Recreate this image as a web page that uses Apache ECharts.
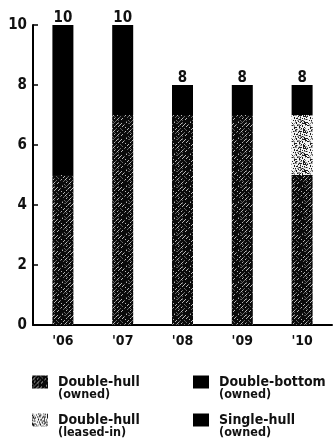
<!DOCTYPE html>
<html>
<head>
<meta charset="utf-8">
<script src="https://cdn.jsdelivr.net/npm/echarts@6/dist/echarts.min.js"></script>
<style>
  html, body { margin: 0; padding: 0; background: #fff; }
  #chart { width: 334px; height: 445px; }
</style>
</head>
<body>
<div id="chart"></div>
<script>
// Fleet composition by hull type, number of vessels per year
const years = ["'06", "'07", "'08", "'09", "'10"];
const doubleHullOwned = [5, 7, 7, 7, 5];
const doubleHullLeased = [0, 0, 0, 0, 2];
const doubleBottomOwned = [1, 1, 1, 1, 1];
const singleHullOwned = [4, 2, 0, 0, 0];
const totals = years.map((_, i) =>
  doubleHullOwned[i] + doubleHullLeased[i] + doubleBottomOwned[i] + singleHullOwned[i]);

const FONT = "'DejaVu Sans Condensed', 'DejaVu Sans', sans-serif";

// Small seeded generator so the textures are identical on every load
function makeRng(seed) {
  let s = seed;
  return () => { s = (s * 1103515245 + 12345) & 0x7fffffff; return s / 0x7fffffff; };
}

// Dark hatch: near-black ground with broken grey "/" strokes
function hatchTile() {
  const c = document.createElement('canvas');
  const n = 16;
  c.width = n; c.height = n;
  const g = c.getContext('2d');
  g.fillStyle = '#0a0a0a';
  g.fillRect(0, 0, n, n);
  const rnd = makeRng(777);
  for (let y = 0; y < n; y++) {
    for (let x = 0; x < n; x++) {
      if ((x + y) % 4 === 0) {
        const r = rnd();
        if (r < 0.4) { g.fillStyle = '#b8b8b8'; g.fillRect(x, y, 1, 1); }
        else if (r < 0.65) { g.fillStyle = '#6a6a6a'; g.fillRect(x, y, 1, 1); }
      } else if (rnd() < 0.05) {
        g.fillStyle = '#555'; g.fillRect(x, y, 1, 1);
      }
    }
  }
  return c;
}

// Light speckle: pale ground with scattered dark dots
function speckleTile() {
  const c = document.createElement('canvas');
  const n = 16;
  c.width = n; c.height = n;
  const g = c.getContext('2d');
  g.fillStyle = '#f2f2f2';
  g.fillRect(0, 0, n, n);
  const rnd = makeRng(12345);
  for (let y = 0; y < n; y++) {
    for (let x = 0; x < n; x++) {
      const r = rnd();
      if (r < 0.3) { g.fillStyle = '#1a1a1a'; g.fillRect(x, y, 1, 1); }
      else if (r < 0.45) { g.fillStyle = '#8c8c8c'; g.fillRect(x, y, 1, 1); }
    }
  }
  return c;
}

const hatch = { image: hatchTile(), repeat: 'repeat' };
const speckle = { image: speckleTile(), repeat: 'repeat' };

function barSeries(name, data, color) {
  return {
    name, type: 'bar', stack: 'fleet', data, barWidth: 21,
    itemStyle: { color },
    emphasis: { disabled: true },
    animation: false
  };
}

const legendRich = {
  a: { fontFamily: FONT, fontWeight: 'bold', fontSize: 14, lineHeight: 13, color: '#111' },
  b: { fontFamily: FONT, fontWeight: 'bold', fontSize: 12.5, lineHeight: 12, color: '#111' }
};
const subs = {
  'Double-hull (owned)': ['Double-hull', '(owned)'],
  'Double-bottom (owned)': ['Double-bottom', '(owned)'],
  'Double-hull (leased-in)': ['Double-hull', '(leased-in)'],
  'Single-hull (owned)': ['Single-hull', '(owned)']
};
function legendAt(name, left, top) {
  return {
    data: [{ name, icon: 'rect' }], left, top, padding: 0,
    itemWidth: 16, itemHeight: 13, itemGap: 0,
    selectedMode: false,
    formatter: n => '{a|' + subs[n][0] + '}\n{b|' + subs[n][1] + '}',
    textStyle: { rich: legendRich, padding: [12, 0, 0, 5] }
  };
}

const chart = echarts.init(document.getElementById('chart'), null, { renderer: 'canvas' });
chart.setOption({
  backgroundColor: '#fff',
  animation: false,
  grid: { left: 33, right: 2, top: 25, bottom: 120 },
  legend: [
    legendAt('Double-hull (owned)', 32, 375),
    legendAt('Double-bottom (owned)', 193, 375),
    legendAt('Double-hull (leased-in)', 32, 413),
    legendAt('Single-hull (owned)', 193, 413)
  ],
  xAxis: {
    type: 'category', data: years,
    axisLine: { lineStyle: { color: '#000', width: 2 } },
    axisTick: { alignWithLabel: true, length: 6, lineStyle: { color: '#000', width: 1.5 } },
    axisLabel: { interval: 0, fontFamily: FONT, fontWeight: 'bold', fontSize: 14, color: '#111', margin: 9 }
  },
  yAxis: {
    type: 'value', min: 0, max: 10, interval: 2,
    axisLine: { show: true, lineStyle: { color: '#000', width: 2 } },
    axisTick: { show: true, inside: true, length: 5, lineStyle: { color: '#000', width: 1.5 } },
    splitLine: { show: false },
    axisLabel: { fontFamily: FONT, fontWeight: 'bold', fontSize: 15, color: '#111', margin: 6 }
  },
  series: [
    barSeries('Double-hull (owned)', doubleHullOwned, hatch),
    barSeries('Double-hull (leased-in)', doubleHullLeased, speckle),
    barSeries('Double-bottom (owned)', doubleBottomOwned, '#000'),
    Object.assign(barSeries('Single-hull (owned)', singleHullOwned, '#000'), {
      // fleet total printed above each stack
      label: {
        show: true, position: 'top', distance: -1,
        formatter: p => String(totals[p.dataIndex]),
        fontFamily: FONT, fontWeight: 'bold', fontSize: 15, color: '#111'
      }
    })
  ]
});
</script>
</body>
</html>
